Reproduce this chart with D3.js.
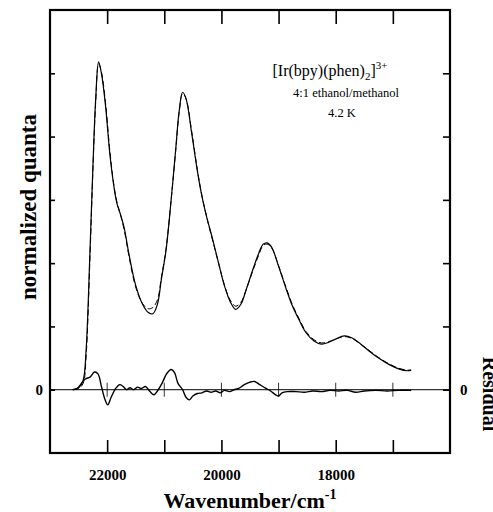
<!DOCTYPE html>
<html>
<head>
<meta charset="utf-8">
<script src="https://cdn.jsdelivr.net/npm/d3@7"></script>
<style>
  body { margin: 0; background: #fff; }
  svg { display: block; font-family: "Liberation Serif", "DejaVu Serif", serif; }
</style>
</head>
<body>
<svg width="493" height="512"></svg>
<script>
// Données
const xTicks = [22000, 21000, 20000, 19000, 18000, 17000];
const xTickLabels = [22000, 20000, 18000];
const yTicks = [0, 1, 2, 3, 4, 5];

const specWave = [22600, 22500, 22420, 22370, 22300, 22250, 22200, 22150, 22100, 22030, 21950, 21880, 21830, 21760, 21700, 21620, 21500, 21380, 21280, 21200, 21120, 21050, 20970, 20880, 20800, 20740, 20680, 20620, 20520, 20420, 20340, 20250, 20160, 20050, 19950, 19850, 19750, 19660, 19560, 19450, 19350, 19270, 19200, 19120, 19000, 18870, 18770, 18640, 18520, 18380, 18250, 18120, 18000, 17850, 17720, 17560, 17400, 17250, 17070, 16900, 16750, 16680];
const specObs  = [0, 0.03, 0.15, 0.6, 2.2, 3.5, 4.6, 5.18, 5.0, 4.5, 3.7, 3.2, 2.95, 2.75, 2.55, 2.15, 1.65, 1.35, 1.22, 1.2, 1.35, 1.75, 2.2, 3.0, 3.8, 4.4, 4.7, 4.6, 4.05, 3.45, 3.05, 2.7, 2.4, 2.0, 1.65, 1.4, 1.27, 1.35, 1.6, 1.9, 2.15, 2.3, 2.32, 2.25, 1.95, 1.6, 1.35, 1.1, 0.9, 0.77, 0.72, 0.75, 0.8, 0.85, 0.82, 0.72, 0.6, 0.5, 0.4, 0.33, 0.3, 0.31];
const specFit  = [0, 0.02, 0.1, 0.5, 2.1, 3.45, 4.55, 5.15, 5.02, 4.55, 3.75, 3.22, 2.97, 2.74, 2.52, 2.12, 1.62, 1.36, 1.28, 1.3, 1.42, 1.78, 2.22, 3.0, 3.78, 4.38, 4.68, 4.6, 4.08, 3.47, 3.06, 2.7, 2.38, 2.0, 1.66, 1.42, 1.32, 1.38, 1.6, 1.88, 2.12, 2.28, 2.3, 2.24, 1.96, 1.62, 1.37, 1.12, 0.92, 0.79, 0.74, 0.76, 0.8, 0.84, 0.81, 0.72, 0.61, 0.51, 0.41, 0.34, 0.31, 0.31];

const resWave = [22600, 22520, 22450, 22380, 22300, 22220, 22160, 22100, 22040, 21990, 21930, 21850, 21780, 21720, 21660, 21600, 21540, 21470, 21400, 21330, 21250, 21180, 21120, 21040, 20960, 20880, 20820, 20760, 20680, 20620, 20560, 20500, 20420, 20340, 20260, 20180, 20100, 20020, 19950, 19860, 19780, 19700, 19600, 19500, 19420, 19330, 19220, 19140, 19050, 19000, 18940, 18850, 18700, 18550, 18400, 18250, 18100, 17950, 17800, 17650, 17500, 17300, 17100, 16900, 16680];
const resVal  = [0, 0.02, 0.1, 0.17, 0.2, 0.28, 0.25, 0.05, -0.15, -0.24, -0.12, 0.02, 0.08, 0.05, 0.0, 0.03, 0.0, 0.04, 0.02, 0.05, -0.03, -0.08, -0.02, 0.1, 0.25, 0.32, 0.27, 0.1, 0.0, -0.12, -0.16, -0.1, -0.06, -0.05, -0.02, -0.04, -0.02, -0.05, -0.01, -0.03, 0.0, 0.02, 0.08, 0.12, 0.13, 0.08, 0.02, -0.02, -0.08, -0.1, -0.05, -0.03, -0.03, -0.04, -0.02, -0.03, -0.01, -0.02, -0.01, -0.04, -0.02, -0.01, -0.02, -0.01, -0.01];

// Dimensions
const svg = d3.select("svg");
const margin = { top: 10, right: 43, bottom: 59, left: 50 };
const width = 493 - margin.left - margin.right,
      height = 512 - margin.top - margin.bottom;

const x = d3.scaleLinear().domain([23000, 16000]).range([0, width]);
const y = d3.scaleLinear().domain([-1, 6]).range([height, 0]);

const g = svg.append("g").attr("transform", `translate(${margin.left},${margin.top})`);

// Axes
const styleAxis = sel => {
  sel.select(".domain").remove();
  sel.selectAll(".tick line").attr("stroke", "#000").attr("stroke-width", 1.6);
  sel.selectAll("text").attr("fill", "#000");
};

g.append("g")
  .attr("transform", `translate(0,${height})`)
  .call(d3.axisBottom(x).tickValues(xTicks).tickSizeInner(-13).tickSizeOuter(0).tickPadding(16)
    .tickFormat(d => xTickLabels.includes(d) ? d : ""))
  .call(styleAxis)
  .selectAll("text").attr("font-size", 15).attr("font-weight", "bold").attr("font-family", "Liberation Serif");

g.append("g")
  .call(d3.axisTop(x).tickValues(xTicks).tickSizeInner(-14).tickSizeOuter(0).tickFormat(""))
  .call(styleAxis);

g.append("g")
  .call(d3.axisLeft(y).tickValues(yTicks).tickSizeInner(-5).tickSizeOuter(0).tickPadding(7)
    .tickFormat(d => d === 0 ? "0" : ""))
  .call(styleAxis)
  .selectAll("text").attr("font-size", 15).attr("font-weight", "bold").attr("font-family", "Liberation Serif");

g.append("g")
  .attr("transform", `translate(${width},0)`)
  .call(d3.axisRight(y).tickValues(yTicks).tickSizeInner(-7).tickSizeOuter(0).tickPadding(10)
    .tickFormat(d => d === 0 ? "0" : ""))
  .call(styleAxis)
  .selectAll("text").attr("font-size", 15).attr("font-weight", "bold").attr("font-family", "Liberation Serif");

// Cadre
g.append("rect")
  .attr("width", width).attr("height", height)
  .attr("fill", "none").attr("stroke", "#000").attr("stroke-width", 2.2);

// Ligne zéro + croix
g.append("line")
  .attr("x1", 0).attr("x2", width)
  .attr("y1", y(0)).attr("y2", y(0))
  .attr("stroke", "#000").attr("stroke-width", 1);

g.selectAll(".cross")
  .data(xTicks)
  .enter().append("line")
  .attr("class", "cross")
  .attr("x1", d => x(d)).attr("x2", d => x(d))
  .attr("y1", y(0) - 7).attr("y2", y(0) + 7)
  .attr("stroke", "#000").attr("stroke-width", 0.8);

// Courbes
const line = d3.line()
  .x(d => x(d[0]))
  .y(d => y(d[1]))
  .curve(d3.curveCatmullRom.alpha(0.5));

g.append("path")
  .datum(d3.zip(specWave, specObs))
  .attr("d", line)
  .attr("fill", "none").attr("stroke", "#000").attr("stroke-width", 1.2);

g.append("path")
  .datum(d3.zip(specWave, specFit))
  .attr("d", line)
  .attr("fill", "none").attr("stroke", "#000").attr("stroke-width", 1)
  .attr("stroke-dasharray", "6,3");

g.append("path")
  .datum(d3.zip(resWave, resVal))
  .attr("d", line)
  .attr("fill", "none").attr("stroke", "#000").attr("stroke-width", 1.4);

// Titres des axes
svg.append("text")
  .attr("transform", "translate(36,207) rotate(-90)")
  .attr("text-anchor", "middle")
  .attr("font-size", 23).attr("font-weight", "bold")
  .text("normalized quanta");

// coupé au bord droit, comme sur l'original
svg.append("text")
  .attr("transform", "translate(483,394) rotate(90)")
  .attr("text-anchor", "middle")
  .attr("font-size", 20).attr("font-weight", "bold")
  .text("Residual");

const xl = svg.append("text")
  .attr("x", 250).attr("y", 508)
  .attr("text-anchor", "middle")
  .attr("font-size", 22).attr("font-weight", "bold");
xl.append("tspan").text("Wavenumber/cm");
xl.append("tspan").attr("font-size", 14).attr("dy", -9).text("-1");

// Annotation
const t1 = svg.append("text")
  .attr("x", 330).attr("y", 76)
  .attr("text-anchor", "middle")
  .attr("font-size", 16);
t1.append("tspan").text("[Ir(bpy)(phen)");
t1.append("tspan").attr("font-size", 11).attr("dy", 4).text("2");
t1.append("tspan").attr("dy", -4).text("]");
t1.append("tspan").attr("font-size", 11).attr("dy", -7).text("3+");

svg.append("text")
  .attr("x", 346).attr("y", 97)
  .attr("text-anchor", "middle")
  .attr("font-size", 12.5)
  .text("4:1 ethanol/methanol");

svg.append("text")
  .attr("x", 342).attr("y", 117)
  .attr("text-anchor", "middle")
  .attr("font-size", 12.5)
  .text("4.2 K");
</script>
</body>
</html>
